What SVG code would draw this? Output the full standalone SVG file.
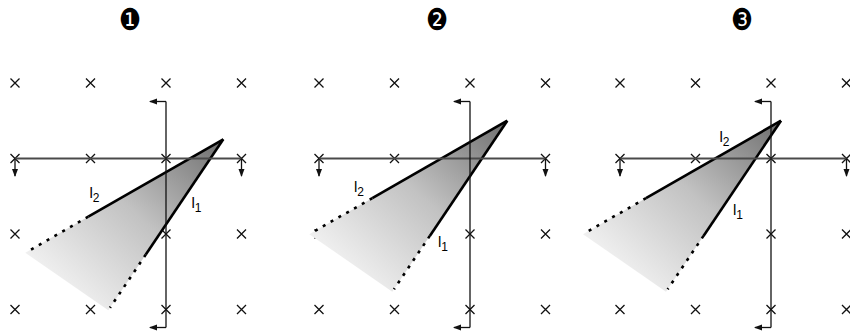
<svg xmlns="http://www.w3.org/2000/svg" width="850" height="336" viewBox="0 0 850 336">
<style>
.cross{stroke:#111;stroke-width:1.3;fill:none}
.hline{stroke:#4a4a4a;stroke-width:2;fill:none}
.vline{stroke:#111;stroke-width:1.3;fill:none}
.arr{stroke:#111;stroke-width:1.3;fill:none}
.solid{stroke:#000;stroke-width:2.6;fill:none;stroke-linecap:butt}
.dash{stroke:#000;stroke-width:2.6;fill:none;stroke-dasharray:3 6}
.fill{fill:url(#g);stroke:none}
.lbl{font-family:"Liberation Sans",Arial,sans-serif;font-size:15px;fill:#000}
.num{font-family:"DejaVu Sans",sans-serif;font-size:30px;fill:#000;text-anchor:middle}
</style>
<defs>
<linearGradient id="g" x1="1" y1="0" x2="0.1" y2="0.85">
<stop offset="0" stop-color="#6e6e6e"/>
<stop offset="0.5" stop-color="#c2c2c2"/>
<stop offset="1" stop-color="#f4f4f4"/>
</linearGradient>
<marker id="ah" markerWidth="8" markerHeight="8" refX="7" refY="4" orient="auto" markerUnits="userSpaceOnUse">
<path d="M0,1 L8,4 L0,7 Z" fill="#111"/>
</marker>
<g id="grid">
<g class="cross">
<path d="M-4.5,-4.5L4.5,4.5M4.5,-4.5L-4.5,4.5"/>
<path d="M71,-4.5L80,4.5M80,-4.5L71,4.5"/>
<path d="M146.5,-4.5L155.5,4.5M155.5,-4.5L146.5,4.5"/>
<path d="M222,-4.5L231,4.5M231,-4.5L222,4.5"/>
<path d="M-4.5,71L4.5,80M4.5,71L-4.5,80"/>
<path d="M71,71L80,80M80,71L71,80"/>
<path d="M146.5,71L155.5,80M155.5,71L146.5,80"/>
<path d="M222,71L231,80M231,71L222,80"/>
<path d="M-4.5,146.5L4.5,155.5M4.5,146.5L-4.5,155.5"/>
<path d="M71,146.5L80,155.5M80,146.5L71,155.5"/>
<path d="M146.5,146.5L155.5,155.5M155.5,146.5L146.5,155.5"/>
<path d="M222,146.5L231,155.5M231,146.5L222,155.5"/>
<path d="M-4.5,222L4.5,231M4.5,222L-4.5,231"/>
<path d="M71,222L80,231M80,222L71,231"/>
<path d="M146.5,222L155.5,231M155.5,222L146.5,231"/>
<path d="M222,222L231,231M231,222L222,231"/>
</g>
</g>
<g id="axes">
<path class="hline" d="M0,75.5H226.5"/>
<path class="arr" d="M0,75.5V93" marker-end="url(#ah)"/>
<path class="arr" d="M226.5,75.5V93" marker-end="url(#ah)"/>
<path class="vline" d="M151,18.5V244.5"/>
<path class="arr" d="M151,18.5H135" marker-end="url(#ah)"/>
<path class="arr" d="M151,244.5H135" marker-end="url(#ah)"/>
</g>
<g id="tri">
<path class="fill" d="M0,0L-198,113.5L-115,171Z"/>
<path class="solid" d="M0,0L-135,77.4"/>
<path class="dash" d="M-135,77.4L-194,111.2"/>
<path class="solid" d="M0,0L-77.5,115.2"/>
<path class="dash" d="M-77.5,115.2L-113.3,168.5"/>
</g>
</defs>
<g id="panel1">
<text class="num" x="130" y="30" transform="translate(130,0) scale(0.82,1) translate(-130,0)">❶</text>
<g transform="translate(15,83)"><use href="#grid"/></g>
<use href="#tri" transform="translate(223.3,139.3)"/>
<g transform="translate(15,83)"><use href="#axes"/></g>
<text class="lbl" x="89.5" y="198">l<tspan font-size="12" dy="4">2</tspan></text>
<text class="lbl" x="191.5" y="208">l<tspan font-size="12" dy="4">1</tspan></text>
</g>
<g id="panel2">
<text class="num" x="437" y="30" transform="translate(437,0) scale(0.82,1) translate(-437,0)">❷</text>
<g transform="translate(319,83)"><use href="#grid"/></g>
<use href="#tri" transform="translate(507.3,120.7)"/>
<g transform="translate(319,83)"><use href="#axes"/></g>
<text class="lbl" x="354" y="191.7">l<tspan font-size="12" dy="4">2</tspan></text>
<text class="lbl" x="438" y="246.7">l<tspan font-size="12" dy="4">1</tspan></text>
</g>
<g id="panel3">
<text class="num" x="742" y="30" transform="translate(742,0) scale(0.82,1) translate(-742,0)">❸</text>
<g transform="translate(620,83)"><use href="#grid"/></g>
<use href="#tri" transform="translate(781,120.7)"/>
<g transform="translate(620,83)"><use href="#axes"/></g>
<text class="lbl" x="719.5" y="141.7">l<tspan font-size="12" dy="4">2</tspan></text>
<text class="lbl" x="733" y="215">l<tspan font-size="12" dy="4">1</tspan></text>
</g>
</svg>
